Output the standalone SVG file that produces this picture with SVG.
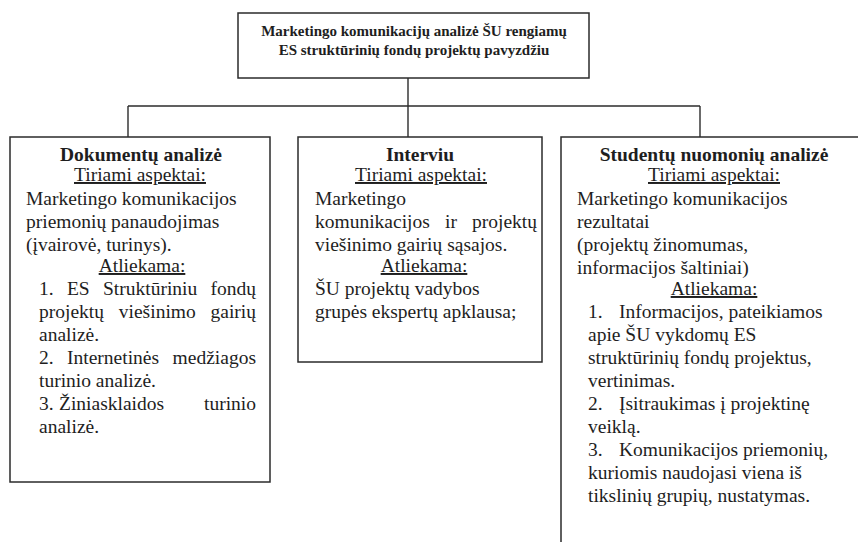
<svg xmlns="http://www.w3.org/2000/svg" width="858" height="542" viewBox="0 0 858 542">
<style>
.box{fill:#fff;stroke:#2b2b2b;stroke-width:1.5}
.conn{stroke:#2b2b2b;stroke-width:1.4;fill:none}
text{font-family:"Liberation Serif","Times New Roman",serif;fill:#1e1e1e}
.t{font-size:15px;font-weight:bold;text-anchor:middle}
.h{font-size:19.5px;font-weight:bold;text-anchor:middle}
.u{font-size:19.5px;text-anchor:middle;text-decoration:underline}
.b{font-size:19.5px}
</style>
<rect width="858" height="542" fill="#fff"/>
<g id="connectors">
<line class="conn" x1="408" y1="78" x2="408" y2="137"/>
<line class="conn" x1="128" y1="106" x2="700" y2="106"/>
<line class="conn" x1="128" y1="106" x2="128" y2="137"/>
<line class="conn" x1="700" y1="106" x2="700" y2="137"/>
</g>
<g id="root">
<rect class="box" x="238" y="13" width="351" height="65"/>
<text class="t" x="414" y="36">Marketingo komunikacijų analizė ŠU rengiamų</text>
<text class="t" x="414" y="55">ES struktūrinių fondų projektų pavyzdžiu</text>
</g>
<g id="dokumentu">
<rect class="box" x="10" y="137" width="260" height="345"/>
<text class="h" x="141" y="161">Dokumentų analizė</text>
<text class="u" x="140" y="181">Tiriami aspektai:</text>
<text class="b" x="26" y="205">Marketingo komunikacijos</text>
<text class="b" x="26" y="228">priemonių panaudojimas</text>
<text class="b" x="26" y="251">(įvairovė, turinys).</text>
<text class="u" x="142" y="272">Atliekama:</text>
<text class="b" y="295"><tspan x="39">1.</tspan><tspan x="66.9">ES</tspan><tspan x="103">Struktūriniu</tspan><tspan x="210.6">fondų</tspan></text>
<text class="b" y="318"><tspan x="39">projektų</tspan><tspan x="118.8">viešinimo</tspan><tspan x="210.5">gairių</tspan></text>
<text class="b" x="39" y="341">analizė.</text>
<text class="b" y="364"><tspan x="39">2.</tspan><tspan x="67">Internetinės</tspan><tspan x="172.6">medžiagos</tspan></text>
<text class="b" x="39" y="387">turinio analizė.</text>
<text class="b" y="410"><tspan x="39">3.</tspan><tspan x="59">Žiniasklaidos</tspan><tspan x="204">turinio</tspan></text>
<text class="b" x="39" y="433">analizė.</text>
</g>
<g id="interviu">
<rect class="box" x="298" y="137" width="244" height="225"/>
<text class="h" x="420" y="161">Interviu</text>
<text class="u" x="421" y="181">Tiriami aspektai:</text>
<text class="b" x="315" y="205">Marketingo</text>
<text class="b" y="228"><tspan x="315">komunikacijos</tspan><tspan x="445">ir</tspan><tspan x="472">projektų</tspan></text>
<text class="b" x="315" y="251">viešinimo gairių sąsajos.</text>
<text class="u" x="424" y="272">Atliekama:</text>
<text class="b" x="315" y="295">ŠU projektų vadybos</text>
<text class="b" x="315" y="318">grupės ekspertų apklausa;</text>
</g>
<g id="studentu">
<rect class="box" x="561" y="137" width="320" height="420"/>
<text class="h" x="714" y="161">Studentų nuomonių analizė</text>
<text class="u" x="714" y="181">Tiriami aspektai:</text>
<text class="b" x="577" y="205">Marketingo komunikacijos</text>
<text class="b" x="577" y="228">rezultatai</text>
<text class="b" x="577" y="251">(projektų žinomumas,</text>
<text class="b" x="577" y="274">informacijos šaltiniai)</text>
<text class="u" x="714" y="295">Atliekama:</text>
<text class="b" y="318"><tspan x="588">1.</tspan><tspan x="619">Informacijos, pateikiamos</tspan></text>
<text class="b" x="588" y="341">apie ŠU vykdomų ES</text>
<text class="b" x="588" y="364">struktūrinių fondų projektus,</text>
<text class="b" x="588" y="387">vertinimas.</text>
<text class="b" y="410"><tspan x="588">2.</tspan><tspan x="619">Įsitraukimas į projektinę</tspan></text>
<text class="b" x="588" y="433">veiklą.</text>
<text class="b" y="456"><tspan x="588">3.</tspan><tspan x="619">Komunikacijos priemonių,</tspan></text>
<text class="b" x="588" y="479">kuriomis naudojasi viena iš</text>
<text class="b" x="588" y="502">tikslinių grupių, nustatymas.</text>
</g>
</svg>
